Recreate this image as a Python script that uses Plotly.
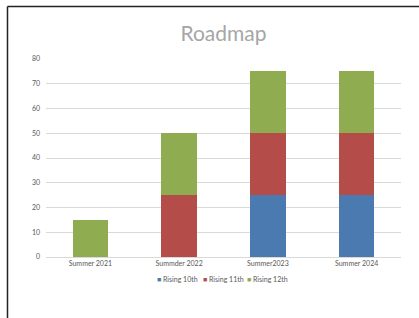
import plotly.graph_objects as go

categories = ["Summer 2021", "Summder 2022", "Summer2023", "Summer 2024"]
rising_10th = [0, 0, 25, 25]
rising_11th = [0, 25, 25, 25]
rising_12th = [15, 25, 25, 25]
y_ticks = [0, 10, 20, 30, 40, 50, 60, 70, 80]

series_names = ["Rising 10th", "Rising 11th", "Rising 12th"]
series_values = [rising_10th, rising_11th, rising_12th]
series_colors = ["#4a7ab0", "#b44c4a", "#8fac51"]

W, H = 419, 318
ml, mr, mt, mb = 46, 18, 59, 61
pw, ph = W - ml - mr, H - mt - mb

def px_x(p):
    return (p - ml) / pw

def px_y(p):
    return (H - mb - p) / ph

fig = go.Figure()
for name, vals, color in zip(series_names, series_values, series_colors):
    fig.add_trace(go.Bar(x=categories, y=vals, name=name, marker_color=color,
                         marker_line_width=0, showlegend=False))

# compact legend (Excel style): small square + label
legend_x = [155, 201, 245]
annotations = []
for name, color, lx in zip(series_names, series_colors, legend_x):
    annotations.append(dict(
        xref="paper", yref="paper", x=px_x(lx), y=px_y(279),
        xanchor="left", yanchor="middle", showarrow=False,
        text=f"<span style='color:{color}'>■</span> {name}",
        font=dict(size=7, color="#595959", family="Lato, Liberation Sans, sans-serif"),
    ))

fig.update_layout(
    width=W, height=H,
    margin=dict(l=ml, r=mr, t=mt, b=mb),
    barmode="stack",
    bargap=0.6,
    showlegend=False,
    paper_bgcolor="white",
    plot_bgcolor="white",
    font=dict(family="Lato, Liberation Sans, sans-serif", color="#595959", size=7),
    title=dict(text="Roadmap", x=0.5, xref="paper", xanchor="center",
               y=1 - 34 / H, yanchor="middle",
               font=dict(size=21, color="#a6a6a6", family="Lato, Liberation Sans, sans-serif")),
    xaxis=dict(showgrid=False, showline=True, linecolor="#d9d9d9", linewidth=1,
               ticks="", tickfont=dict(size=7, color="#595959"), fixedrange=True),
    yaxis=dict(range=[0, 80], tickvals=y_ticks, showgrid=True, gridcolor="#d9d9d9",
               gridwidth=1, zeroline=False, showline=False, ticks="",
               tickfont=dict(size=7, color="#595959"), ticklabelstandoff=5),
    annotations=annotations,
    shapes=[
        dict(type="line", xref="paper", yref="paper", x0=px_x(7.5), x1=px_x(W),
             y0=px_y(6.5), y1=px_y(6.5), line=dict(color="#222222", width=1.5)),
        dict(type="line", xref="paper", yref="paper", x0=px_x(7.5), x1=px_x(7.5),
             y0=px_y(6.5), y1=px_y(H), line=dict(color="#222222", width=1.5)),
    ],
)

fig.write_html("out.html", config={"displayModeBar": False},
               post_script="document.body.style.margin='0';"
                           "document.body.style.overflow='hidden';"
                           "document.documentElement.style.overflow='hidden';")
